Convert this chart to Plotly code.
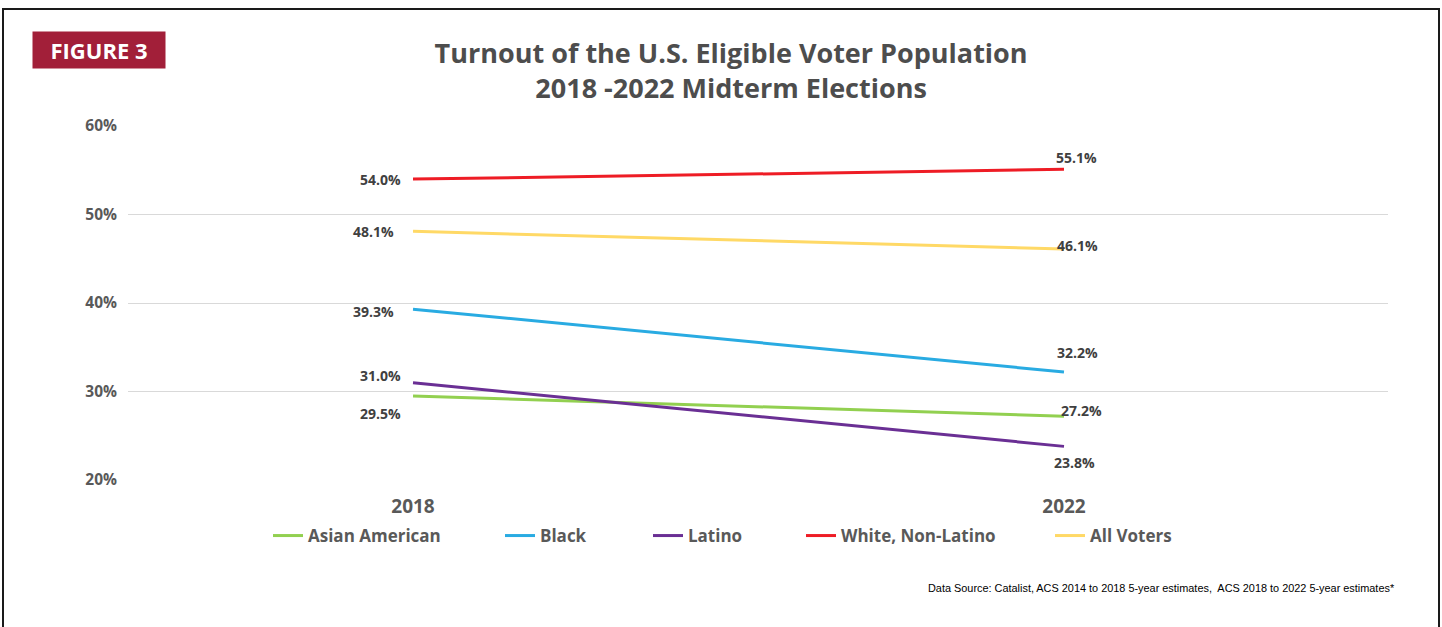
import plotly.graph_objects as go

# ---------------- data ----------------
years = ["2018", "2022"]
series_names = ["Asian American", "Black", "Latino", "White, Non-Latino", "All Voters"]
asian_american = [29.5, 27.2]
black = [39.3, 32.2]
latino = [31.0, 23.8]
white_non_latino = [54.0, 55.1]
all_voters = [48.1, 46.1]
y_ticks = [20, 30, 40, 50, 60]
y_tick_labels = ["20%", "30%", "40%", "50%", "60%"]

title_text = "Turnout of the U.S. Eligible Voter Population<br>2018 -2022 Midterm Elections"
figure_tag = "FIGURE 3"
source_text = "Data Source: Catalist, ACS 2014 to 2018 5-year estimates,  ACS 2018 to 2022 5-year estimates*"

# ---------------- styles ----------------
colors = ["#92d050", "#29abe2", "#6a2f94", "#ee1c25", "#ffd966"]
# label offsets (px) per series for [2018, 2022]
label_xshift = [[-33, 17], [-40, 13], [-33, 10], [-33, 12], [-40, 13]]
label_yshift = [[-18, 6], [-2, 20], [7, -16.5], [0, 11.5], [0, 4]]
legend_left_px = [273, 505, 653, 806, 1055]

W, H = 1442, 627
L, R, T, B = 128, 54, 126, 147
pw = W - L - R
ph = H - T - B


def px_x(px):
    return (px - L) / pw


def px_y(py):
    return (H - B - py) / ph


FONT = "Open Sans, Noto Sans, DejaVu Sans, sans-serif"
all_series = [asian_american, black, latino, white_non_latino, all_voters]

fig = go.Figure()
legend_ids = ["legend", "legend2", "legend3", "legend4", "legend5"]
for i, (name, vals) in enumerate(zip(series_names, all_series)):
    fig.add_trace(go.Scatter(
        x=years, y=vals, mode="lines", name=name,
        line=dict(color=colors[i], width=3),
        legend=legend_ids[i], hoverinfo="skip",
    ))

annotations = []
for i, vals in enumerate(all_series):
    for j, v in enumerate(vals):
        annotations.append(dict(
            x=j, y=v, xref="x", yref="y", text=f"{v:.1f}%",
            showarrow=False, xanchor="center", yanchor="middle",
            xshift=label_xshift[i][j], yshift=label_yshift[i][j],
            font=dict(family=FONT, size=14, color="#404040", weight="bold"),
        ))

# figure tag box
annotations.append(dict(
    x=px_x(32), y=px_y(31), xref="paper", yref="paper",
    xanchor="left", yanchor="top", text=figure_tag, showarrow=False,
    width=132, height=36, bgcolor="#a21f39", borderpad=0, align="center",
    font=dict(family=FONT, size=22, color="white", weight="bold"),
))
# source
annotations.append(dict(
    x=px_x(1397), y=px_y(588), xref="paper", yref="paper",
    xanchor="right", yanchor="middle", text=source_text, showarrow=False,
    font=dict(family="Liberation Sans Narrow, Liberation Sans, sans-serif", size=10.9, color="#000000"),
))

legends = {}
for i, lid in enumerate(legend_ids):
    legends[lid] = dict(
        x=px_x(legend_left_px[i] - 5), y=px_y(536), xref="paper", yref="paper",
        xanchor="left", yanchor="middle", orientation="h",
        bgcolor="rgba(0,0,0,0)", borderwidth=0, itemwidth=30,
        font=dict(family=FONT, size=17, color="#595959", weight="bold"),
    )

fig.update_layout(
    width=W, height=H,
    margin=dict(l=L, r=R, t=T, b=B),
    paper_bgcolor="white", plot_bgcolor="white",
    title=dict(
        text=title_text, x=0.507, xanchor="center", xref="container",
        y=1 - 63 / H, yanchor="middle", yref="container",
        font=dict(family=FONT, size=27, color="#4d4d4d", weight="bold"),
    ),
    xaxis=dict(
        type="category", range=[-0.4378, 1.4977], showgrid=False,
        showline=False, zeroline=False, ticks="",
        ticklabelstandoff=13,
        tickfont=dict(family=FONT, size=19, color="#595959", weight="bold"),
    ),
    yaxis=dict(
        range=[20, 60], tickvals=y_ticks, ticktext=y_tick_labels,
        showgrid=True, gridcolor="#d9d9d9", gridwidth=1,
        zeroline=False, showline=False, ticks="",
        ticklabelstandoff=10,
        tickfont=dict(family=FONT, size=15.5, color="#595959", weight="bold"),
    ),
    annotations=annotations,
    shapes=[dict(
        type="rect", xref="paper", yref="paper",
        x0=px_x(3), x1=px_x(1439), y0=px_y(700), y1=px_y(9),
        line=dict(color="#1a1a1a", width=2), fillcolor="rgba(0,0,0,0)",
        layer="above",
    )],
    showlegend=True,
    **legends,
)

fig.write_html(
    "out.html",
    config={"displayModeBar": False},
    post_script="document.body.style.margin='0';document.body.style.overflow='hidden';",
)
